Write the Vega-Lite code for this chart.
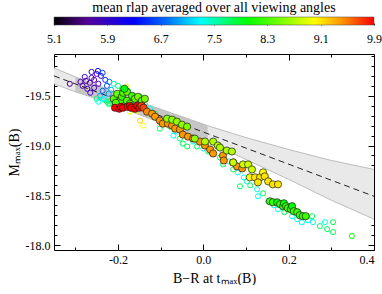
{
  "$schema": "https://vega.github.io/schema/vega-lite/v6.json",
  "autosize": {"type": "pad"},
  "padding": {"left": 7, "top": 0, "right": 0, "bottom": 0},
  "background": "white",
  "bounds": "flush",
  "spacing": 29,
  "config": {
    "view": {"stroke": null},
    "font": "Liberation Serif",
    "axis": {"grid": false, "domainColor": "black", "tickColor": "black", "labelColor": "black", "titleColor": "black", "labelFont": "Liberation Serif", "titleFont": "Liberation Serif", "labelFontSize": 12, "titleFontSize": 14, "titleFontWeight": "normal", "domainWidth": 1, "tickWidth": 1}
  },
  "datasets": {
    "bar": [{"lo": 5.1, "hi": 9.9}],
    "band": [
      {"br": -0.35, "lo": -19.78, "hi": -19.62},
      {"br": -0.30, "lo": -19.69, "hi": -19.54},
      {"br": -0.25, "lo": -19.61, "hi": -19.47},
      {"br": -0.15, "lo": -19.44, "hi": -19.31},
      {"br": -0.05, "lo": -19.29, "hi": -19.15},
      {"br": 0.01, "lo": -19.20, "hi": -19.04},
      {"br": 0.10, "lo": -19.08, "hi": -18.86},
      {"br": 0.20, "lo": -18.96, "hi": -18.66},
      {"br": 0.30, "lo": -18.85, "hi": -18.45},
      {"br": 0.40, "lo": -18.76, "hi": -18.26}
    ],
    "solid": [
      {"br": -0.30, "lo": -19.69, "hi": -19.54},
      {"br": -0.25, "lo": -19.61, "hi": -19.47},
      {"br": -0.15, "lo": -19.44, "hi": -19.31},
      {"br": -0.05, "lo": -19.29, "hi": -19.15},
      {"br": 0.01, "lo": -19.20, "hi": -19.04}
    ],
    "fit": [
      {"br": -0.35, "mb": -19.70},
      {"br": 0.40, "mb": -18.49}
    ],
    "open": [
      {"br": -0.313, "mb": -19.62, "rlap": 5.5},
      {"br": -0.283, "mb": -19.60, "rlap": 5.7},
      {"br": -0.272, "mb": -19.57, "rlap": 5.8},
      {"br": -0.266, "mb": -19.63, "rlap": 5.8},
      {"br": -0.262, "mb": -19.68, "rlap": 5.9},
      {"br": -0.256, "mb": -19.66, "rlap": 5.7},
      {"br": -0.25, "mb": -19.72, "rlap": 6.0},
      {"br": -0.246, "mb": -19.62, "rlap": 5.9},
      {"br": -0.24, "mb": -19.70, "rlap": 6.1},
      {"br": -0.256, "mb": -19.58, "rlap": 5.9},
      {"br": -0.265, "mb": -19.53, "rlap": 6.0},
      {"br": -0.275, "mb": -19.65, "rlap": 5.6},
      {"br": -0.288, "mb": -19.64, "rlap": 5.8},
      {"br": -0.278, "mb": -19.69, "rlap": 6.0},
      {"br": -0.262, "mb": -19.74, "rlap": 6.2},
      {"br": -0.247, "mb": -19.75, "rlap": 6.3},
      {"br": -0.236, "mb": -19.73, "rlap": 6.5},
      {"br": -0.23, "mb": -19.66, "rlap": 6.4},
      {"br": -0.226, "mb": -19.60, "rlap": 6.6},
      {"br": -0.236, "mb": -19.55, "rlap": 6.7},
      {"br": -0.242, "mb": -19.50, "rlap": 6.9},
      {"br": -0.222, "mb": -19.52, "rlap": 6.9},
      {"br": -0.216, "mb": -19.56, "rlap": 7.0},
      {"br": -0.22, "mb": -19.64, "rlap": 6.8},
      {"br": -0.21, "mb": -19.62, "rlap": 7.6},
      {"br": -0.2, "mb": -19.60, "rlap": 7.8},
      {"br": -0.232, "mb": -19.46, "rlap": 7.4},
      {"br": -0.246, "mb": -19.44, "rlap": 7.3},
      {"br": -0.222, "mb": -19.42, "rlap": 7.9},
      {"br": -0.212, "mb": -19.46, "rlap": 7.9},
      {"br": -0.25, "mb": -19.47, "rlap": 7.8},
      {"br": -0.19, "mb": -19.56, "rlap": 8.0},
      {"br": -0.18, "mb": -19.59, "rlap": 8.8},
      {"br": -0.2, "mb": -19.52, "rlap": 7.9},
      {"br": -0.19, "mb": -19.57, "rlap": 7.9},
      {"br": -0.177, "mb": -19.55, "rlap": 7.4},
      {"br": -0.16, "mb": -19.47, "rlap": 7.4},
      {"br": -0.148, "mb": -19.49, "rlap": 7.9},
      {"br": -0.137, "mb": -19.42, "rlap": 7.4},
      {"br": -0.226, "mb": -19.44, "rlap": 7.9},
      {"br": -0.219, "mb": -19.42, "rlap": 7.8},
      {"br": -0.235, "mb": -19.47, "rlap": 7.4},
      {"br": -0.172, "mb": -19.34, "rlap": 8.9},
      {"br": -0.155, "mb": -19.35, "rlap": 9.0},
      {"br": -0.148, "mb": -19.25, "rlap": 9.2},
      {"br": -0.141, "mb": -19.20, "rlap": 9.0},
      {"br": -0.125, "mb": -19.37, "rlap": 7.4},
      {"br": -0.113, "mb": -19.32, "rlap": 7.9},
      {"br": -0.102, "mb": -19.17, "rlap": 7.9},
      {"br": -0.09, "mb": -19.22, "rlap": 7.4},
      {"br": -0.078, "mb": -19.19, "rlap": 7.9},
      {"br": -0.066, "mb": -19.14, "rlap": 7.4},
      {"br": -0.055, "mb": -19.07, "rlap": 7.9},
      {"br": -0.07, "mb": -19.10, "rlap": 7.4},
      {"br": -0.038, "mb": -18.99, "rlap": 7.9},
      {"br": -0.024, "mb": -19.07, "rlap": 7.4},
      {"br": -0.038, "mb": -19.09, "rlap": 7.4},
      {"br": -0.024, "mb": -19.04, "rlap": 7.4},
      {"br": -0.048, "mb": -19.02, "rlap": 7.9},
      {"br": -0.015, "mb": -18.99, "rlap": 7.9},
      {"br": 0.011, "mb": -18.94, "rlap": 7.9},
      {"br": 0.0, "mb": -18.97, "rlap": 7.4},
      {"br": 0.02, "mb": -18.92, "rlap": 7.4},
      {"br": 0.039, "mb": -18.88, "rlap": 7.9},
      {"br": 0.046, "mb": -18.81, "rlap": 7.9},
      {"br": 0.06, "mb": -18.84, "rlap": 7.4},
      {"br": 0.07, "mb": -18.76, "rlap": 7.9},
      {"br": 0.081, "mb": -18.73, "rlap": 7.4},
      {"br": 0.086, "mb": -18.59, "rlap": 7.9},
      {"br": 0.095, "mb": -18.68, "rlap": 7.4},
      {"br": 0.102, "mb": -18.64, "rlap": 7.4},
      {"br": 0.11, "mb": -18.60, "rlap": 7.9},
      {"br": 0.126, "mb": -18.56, "rlap": 7.4},
      {"br": 0.128, "mb": -18.49, "rlap": 7.4},
      {"br": 0.14, "mb": -18.52, "rlap": 7.9},
      {"br": 0.152, "mb": -18.44, "rlap": 7.4},
      {"br": 0.165, "mb": -18.40, "rlap": 7.4},
      {"br": 0.175, "mb": -18.36, "rlap": 7.4},
      {"br": 0.19, "mb": -18.33, "rlap": 7.9},
      {"br": 0.208, "mb": -18.29, "rlap": 7.4},
      {"br": 0.22, "mb": -18.26, "rlap": 7.4},
      {"br": 0.231, "mb": -18.23, "rlap": 7.4},
      {"br": 0.245, "mb": -18.25, "rlap": 7.4},
      {"br": 0.255, "mb": -18.29, "rlap": 7.9},
      {"br": 0.257, "mb": -18.23, "rlap": 7.4},
      {"br": 0.273, "mb": -18.19, "rlap": 7.9},
      {"br": 0.285, "mb": -18.23, "rlap": 7.4},
      {"br": 0.29, "mb": -18.16, "rlap": 7.9},
      {"br": 0.304, "mb": -18.23, "rlap": 7.9},
      {"br": 0.304, "mb": -18.13, "rlap": 7.9},
      {"br": 0.348, "mb": -18.09, "rlap": 8.0}
    ],
    "filled": [
      {"br": -0.21, "mb": -19.47, "rlap": 8.2},
      {"br": -0.202, "mb": -19.52, "rlap": 8.3},
      {"br": -0.195, "mb": -19.45, "rlap": 8.2},
      {"br": -0.191, "mb": -19.49, "rlap": 8.1},
      {"br": -0.188, "mb": -19.53, "rlap": 8.2},
      {"br": -0.179, "mb": -19.54, "rlap": 8.3},
      {"br": -0.179, "mb": -19.45, "rlap": 8.2},
      {"br": -0.172, "mb": -19.42, "rlap": 8.2},
      {"br": -0.167, "mb": -19.50, "rlap": 8.1},
      {"br": -0.16, "mb": -19.47, "rlap": 8.3},
      {"br": -0.153, "mb": -19.49, "rlap": 8.4},
      {"br": -0.144, "mb": -19.45, "rlap": 8.3},
      {"br": -0.137, "mb": -19.47, "rlap": 8.4},
      {"br": -0.185, "mb": -19.57, "rlap": 8.0},
      {"br": -0.205, "mb": -19.43, "rlap": 8.2},
      {"br": -0.207, "mb": -19.38, "rlap": 9.9},
      {"br": -0.197, "mb": -19.37, "rlap": 9.9},
      {"br": -0.193, "mb": -19.39, "rlap": 9.9},
      {"br": -0.188, "mb": -19.38, "rlap": 9.9},
      {"br": -0.178, "mb": -19.39, "rlap": 9.9},
      {"br": -0.172, "mb": -19.40, "rlap": 9.9},
      {"br": -0.169, "mb": -19.38, "rlap": 9.9},
      {"br": -0.16, "mb": -19.37, "rlap": 9.9},
      {"br": -0.155, "mb": -19.40, "rlap": 9.9},
      {"br": -0.15, "mb": -19.38, "rlap": 9.9},
      {"br": -0.145, "mb": -19.40, "rlap": 9.8},
      {"br": -0.14, "mb": -19.38, "rlap": 9.8},
      {"br": -0.132, "mb": -19.34, "rlap": 9.5},
      {"br": -0.12, "mb": -19.32, "rlap": 9.4},
      {"br": -0.113, "mb": -19.29, "rlap": 9.4},
      {"br": -0.102, "mb": -19.25, "rlap": 9.4},
      {"br": -0.095, "mb": -19.22, "rlap": 9.4},
      {"br": -0.083, "mb": -19.22, "rlap": 9.4},
      {"br": -0.073, "mb": -19.20, "rlap": 9.4},
      {"br": -0.066, "mb": -19.17, "rlap": 9.4},
      {"br": -0.055, "mb": -19.16, "rlap": 9.4},
      {"br": -0.048, "mb": -19.11, "rlap": 9.4},
      {"br": -0.036, "mb": -19.09, "rlap": 9.4},
      {"br": -0.024, "mb": -19.07, "rlap": 9.4},
      {"br": -0.008, "mb": -19.04, "rlap": 9.4},
      {"br": 0.004, "mb": -19.00, "rlap": 9.4},
      {"br": 0.016, "mb": -18.96, "rlap": 9.4},
      {"br": 0.023, "mb": -18.92, "rlap": 9.4},
      {"br": 0.046, "mb": -18.90, "rlap": 9.4},
      {"br": 0.048, "mb": -18.85, "rlap": 9.4},
      {"br": 0.07, "mb": -18.83, "rlap": 9.4},
      {"br": 0.079, "mb": -18.79, "rlap": 9.4},
      {"br": 0.091, "mb": -18.77, "rlap": 9.4},
      {"br": -0.085, "mb": -19.27, "rlap": 8.6},
      {"br": -0.073, "mb": -19.26, "rlap": 8.6},
      {"br": -0.062, "mb": -19.24, "rlap": 8.6},
      {"br": -0.05, "mb": -19.21, "rlap": 8.6},
      {"br": -0.038, "mb": -19.19, "rlap": 8.5},
      {"br": -0.02, "mb": -19.07, "rlap": 8.6},
      {"br": 0.004, "mb": -19.04, "rlap": 8.7},
      {"br": 0.023, "mb": -19.04, "rlap": 8.7},
      {"br": 0.034, "mb": -19.00, "rlap": 8.7},
      {"br": 0.039, "mb": -18.98, "rlap": 8.7},
      {"br": 0.055, "mb": -18.95, "rlap": 8.7},
      {"br": 0.067, "mb": -18.94, "rlap": 8.7},
      {"br": 0.07, "mb": -18.83, "rlap": 8.8},
      {"br": 0.093, "mb": -18.81, "rlap": 8.8},
      {"br": 0.105, "mb": -18.81, "rlap": 8.8},
      {"br": 0.114, "mb": -18.76, "rlap": 8.8},
      {"br": 0.109, "mb": -18.68, "rlap": 9.0},
      {"br": 0.121, "mb": -18.68, "rlap": 9.1},
      {"br": 0.133, "mb": -18.68, "rlap": 9.1},
      {"br": 0.14, "mb": -18.73, "rlap": 9.0},
      {"br": 0.144, "mb": -18.69, "rlap": 9.1},
      {"br": 0.128, "mb": -18.63, "rlap": 9.1},
      {"br": 0.152, "mb": -18.64, "rlap": 9.1},
      {"br": 0.163, "mb": -18.61, "rlap": 9.1},
      {"br": 0.175, "mb": -18.61, "rlap": 9.1},
      {"br": 0.156, "mb": -18.44, "rlap": 8.1},
      {"br": 0.163, "mb": -18.43, "rlap": 8.1},
      {"br": 0.173, "mb": -18.43, "rlap": 8.0},
      {"br": 0.18, "mb": -18.41, "rlap": 8.1},
      {"br": 0.187, "mb": -18.39, "rlap": 8.1},
      {"br": 0.189, "mb": -18.42, "rlap": 8.0},
      {"br": 0.194, "mb": -18.39, "rlap": 8.1},
      {"br": 0.198, "mb": -18.37, "rlap": 8.1},
      {"br": 0.205, "mb": -18.36, "rlap": 8.1},
      {"br": 0.208, "mb": -18.39, "rlap": 8.0},
      {"br": 0.212, "mb": -18.34, "rlap": 8.1},
      {"br": 0.22, "mb": -18.33, "rlap": 8.1},
      {"br": 0.226, "mb": -18.30, "rlap": 8.1},
      {"br": 0.233, "mb": -18.29, "rlap": 8.1},
      {"br": 0.24, "mb": -18.29, "rlap": 8.1}
    ]
  },
  "vconcat": [
    {
      "width": 320,
      "height": 8,
      "title": {"text": "mean rlap averaged over all viewing angles", "font": "Liberation Serif", "fontSize": 14, "fontWeight": "normal", "color": "black", "anchor": "middle", "offset": 2},
      "data": {"name": "bar"},
      "mark": {"type": "rect", "stroke": "#444444", "strokeWidth": 0.5,
        "fill": {"gradient": "linear", "x1": 0, "y1": 0, "x2": 1, "y2": 0, "stops": [
          {"offset": 0, "color": "#000000"},
          {"offset": 0.104, "color": "#55009a"},
          {"offset": 0.25, "color": "#0000ff"},
          {"offset": 0.354, "color": "#0070ff"},
          {"offset": 0.458, "color": "#00ffff"},
          {"offset": 0.604, "color": "#00ff00"},
          {"offset": 0.729, "color": "#90ff00"},
          {"offset": 0.8125, "color": "#ffff00"},
          {"offset": 0.896, "color": "#ff9900"},
          {"offset": 1, "color": "#ff0000"}
        ]}},
      "encoding": {
        "x": {"field": "lo", "type": "quantitative", "scale": {"domain": [5.1, 9.9], "nice": false, "zero": false},
          "axis": {"orient": "bottom", "values": [5.1, 5.9, 6.7, 7.5, 8.3, 9.1, 9.9], "format": ".1f", "domain": false, "tickSize": -2, "tickColor": "#333333", "labelPadding": 10, "labelFlush": false, "labelOverlap": false, "title": null}},
        "x2": {"field": "hi"}
      }
    },
    {
      "width": 320,
      "height": 196,
      "layer": [
        {
          "data": {"name": "band"},
          "mark": {"type": "area", "fill": "#e9e9e9", "stroke": null},
          "encoding": {
            "x": {"field": "br", "type": "quantitative", "scale": {"domain": [-0.35, 0.4], "nice": false, "zero": false},
              "axis": {"orient": "bottom", "values": [-0.2, 0, 0.2, 0.4], "tickSize": -6, "labelPadding": 10, "labelExpr": "replace(format(datum.value, '.1f'), '\u2212', '-')", "title": "B\u2212R at t\u2098\u2090\u2093(B)", "titlePadding": 6}},
            "y": {"field": "lo", "type": "quantitative", "scale": {"domain": [-19.92, -17.95], "reverse": true, "nice": false, "zero": false},
              "axis": {"orient": "left", "values": [-19.5, -19, -18.5, -18], "tickSize": -6, "labelPadding": 10, "labelExpr": "replace(format(datum.value, '.1f'), '\u2212', '-')", "title": "M\u2098\u2090\u2093(B)", "titlePadding": 4}},
            "y2": {"field": "hi"}
          }
        },
        {
          "data": {"name": "solid"},
          "mark": {"type": "area", "fill": "#c6c6c6", "stroke": null},
          "encoding": {
            "x": {"field": "br", "type": "quantitative", "axis": {"orient": "top", "values": [-0.2, 0, 0.2, 0.4], "tickSize": -6, "labels": false, "title": null}},
            "y": {"field": "lo", "type": "quantitative", "axis": {"orient": "right", "values": [-19.5, -19, -18.5, -18], "tickSize": -6, "labels": false, "title": null}},
            "y2": {"field": "hi"}
          }
        },
        {
          "data": {"name": "band"},
          "mark": {"type": "line", "stroke": "#bdbdbd", "strokeWidth": 1},
          "encoding": {
            "x": {"field": "br", "type": "quantitative", "axis": {"orient": "bottom", "values": [-0.3, -0.1, 0.1, 0.3], "tickSize": -3, "labels": false, "domain": false, "title": null}},
            "y": {"field": "lo", "type": "quantitative", "axis": {"orient": "left", "values": [-19.9, -19.8, -19.7, -19.6, -19.4, -19.3, -19.2, -19.1, -18.9, -18.8, -18.7, -18.6, -18.4, -18.3, -18.2, -18.1], "tickSize": -3, "labels": false, "domain": false, "title": null}}
          }
        },
        {
          "data": {"name": "band"},
          "mark": {"type": "line", "stroke": "#bdbdbd", "strokeWidth": 1},
          "encoding": {
            "x": {"field": "br", "type": "quantitative", "axis": {"orient": "top", "values": [-0.3, -0.1, 0.1, 0.3], "tickSize": -3, "labels": false, "domain": false, "title": null}},
            "y": {"field": "hi", "type": "quantitative", "axis": {"orient": "right", "values": [-19.9, -19.8, -19.7, -19.6, -19.4, -19.3, -19.2, -19.1, -18.9, -18.8, -18.7, -18.6, -18.4, -18.3, -18.2, -18.1], "tickSize": -3, "labels": false, "domain": false, "title": null}}
          }
        },
        {
          "data": {"name": "fit"},
          "mark": {"type": "line", "stroke": "#222222", "strokeWidth": 1, "strokeDash": [6, 4]},
          "encoding": {
            "x": {"field": "br", "type": "quantitative", "axis": null},
            "y": {"field": "mb", "type": "quantitative", "axis": null}
          }
        },
        {
          "data": {"name": "open"},
          "mark": {"type": "point", "shape": "circle", "filled": false, "size": 26, "strokeWidth": 1, "opacity": 1},
          "encoding": {
            "x": {"field": "br", "type": "quantitative", "axis": null},
            "y": {"field": "mb", "type": "quantitative", "axis": null},
            "stroke": {"field": "rlap", "type": "quantitative",
              "scale": {"domain": [5.1, 5.6, 6.3, 6.8, 7.3, 8.0, 8.6, 9.0, 9.4, 9.9], "range": ["#000000", "#55009a", "#0000ff", "#0070ff", "#00ffff", "#00ff00", "#90ff00", "#ffff00", "#ff9900", "#ff0000"]},
              "legend": null}
          }
        },
        {
          "data": {"name": "filled"},
          "mark": {"type": "point", "shape": "circle", "filled": true, "size": 52, "stroke": "#1a1a1a", "strokeWidth": 0.7, "opacity": 1},
          "encoding": {
            "x": {"field": "br", "type": "quantitative", "axis": null},
            "y": {"field": "mb", "type": "quantitative", "axis": null},
            "fill": {"field": "rlap", "type": "quantitative",
              "scale": {"domain": [5.1, 5.6, 6.3, 6.8, 7.3, 8.0, 8.6, 9.0, 9.4, 9.9], "range": ["#000000", "#55009a", "#0000ff", "#0070ff", "#00ffff", "#00ff00", "#90ff00", "#ffff00", "#ff9900", "#ff0000"]},
              "legend": null}
          }
        }
      ],
      "resolve": {"axis": {"x": "independent", "y": "independent"}}
    }
  ]
}
